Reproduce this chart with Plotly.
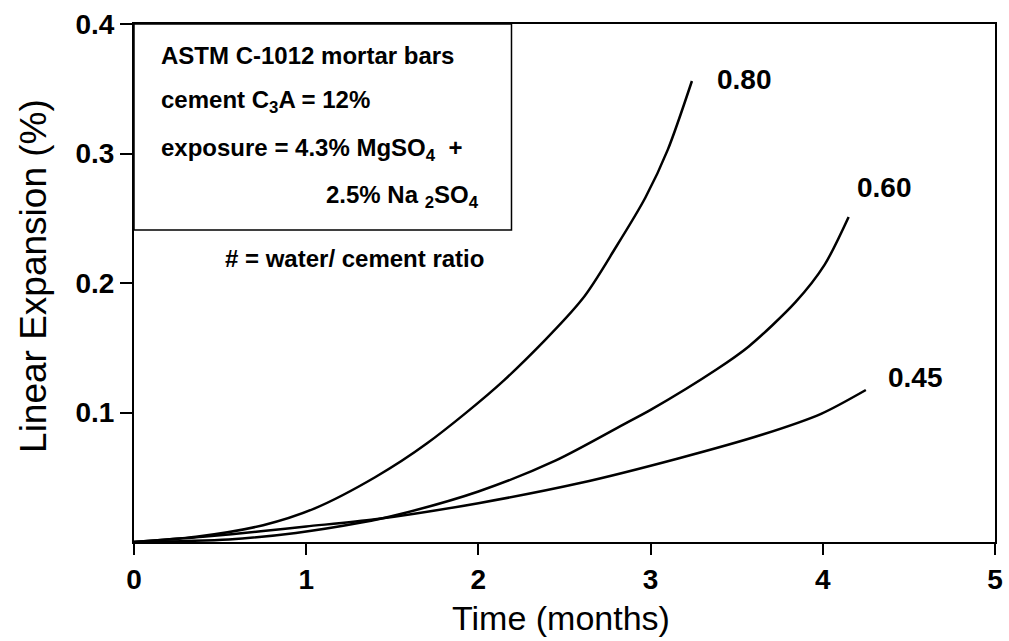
import plotly.graph_objects as go

# Data
t_080 = [0, 0.36, 0.75, 1.05, 1.40, 1.70, 2.15, 2.60, 2.80, 2.97, 3.10, 3.24]
e_080 = [0, 0.004, 0.013, 0.026, 0.050, 0.076, 0.125, 0.187, 0.228, 0.266, 0.303, 0.356]

t_060 = [0, 0.55, 0.94, 1.32, 1.53, 2.0, 2.45, 2.86, 3.0, 3.38, 3.57, 3.84, 4.01, 4.15]
e_060 = [0, 0.002, 0.007, 0.015, 0.021, 0.039, 0.063, 0.092, 0.102, 0.133, 0.151, 0.185, 0.214, 0.251]

t_045 = [0, 0.4, 0.75, 1.0, 1.4, 2.0, 2.59, 3.16, 3.65, 3.99, 4.25]
e_045 = [0, 0.004, 0.0085, 0.012, 0.0175, 0.030, 0.0455, 0.0645, 0.083, 0.099, 0.1174]

series = [("0.80", t_080, e_080, 3.548, 0.3568),
          ("0.60", t_060, e_060, 4.36, 0.274),
          ("0.45", t_045, e_045, 4.539, 0.1274)]

x_ticks = [0, 1, 2, 3, 4, 5]
y_ticks = [0.1, 0.2, 0.3, 0.4]
y_ticktext = ["0.1", "0.2", "0.3", "0.4"]

FONT = "Liberation Sans, Arial, sans-serif"

fig = go.Figure()
for name, t, e, lx, ly in series:
    fig.add_trace(go.Scatter(x=t, y=e, mode="lines", name=name,
                             line=dict(color="black", width=2.5, shape="spline", smoothing=0.8),
                             showlegend=False, hoverinfo="skip"))
    fig.add_annotation(x=lx, y=ly, xref="x", yref="y", text="<b>%s</b>" % name,
                       showarrow=False, font=dict(family=FONT, size=28, color="black"))

W, H = 1009, 641
L, R, T, B = 134, 6, 24, 99
pw, ph = W - L - R, H - T - B

def px(xp):
    return (xp - L) / pw

def py(yp):
    return (H - B - yp) / ph

# info box
fig.add_shape(type="rect", xref="paper", yref="paper",
              x0=0, x1=px(515), y0=py(230), y1=1,
              line=dict(color="black", width=1.5), fillcolor="rgba(0,0,0,0)")

box_lines = [
    ("<b>ASTM C-1012 mortar bars</b>", 159, 55, "left"),
    ("<b>cement C<sub>3</sub>A = 12%</b>", 159, 101, "left"),
    ("<b>exposure = 4.3% MgSO<sub>4</sub>  +</b>", 159, 150, "left"),
    ("<b>2.5% Na <sub>2</sub>SO<sub>4</sub></b>", 484, 196, "right"),
]
for text, xp, yp, anchor in box_lines:
    fig.add_annotation(x=px(xp), y=py(yp), xref="paper", yref="paper", text=text,
                       xanchor=anchor, yanchor="middle", showarrow=False,
                       font=dict(family=FONT, size=24, color="black"))

fig.add_annotation(x=px(357), y=py(258), xref="paper", yref="paper",
                   text="<b># = water/ cement ratio</b>", xanchor="center", yanchor="middle",
                   showarrow=False, font=dict(family=FONT, size=24, color="black"))

# axis titles
fig.add_annotation(x=px(565), y=py(618), xref="paper", yref="paper",
                   text="Time (months)", showarrow=False, xanchor="center", yanchor="middle",
                   font=dict(family=FONT, size=34, color="black"))
fig.add_annotation(x=px(32), y=py(276), xref="paper", yref="paper",
                   text="Linear Expansion (%)", showarrow=False, textangle=-90,
                   xanchor="center", yanchor="middle",
                   font=dict(family=FONT, size=37, color="black"))

fig.update_layout(
    width=W, height=H,
    margin=dict(l=L, r=R, t=T, b=B, pad=0),
    paper_bgcolor="white", plot_bgcolor="white",
    font=dict(family=FONT, color="black"),
)
fig.update_xaxes(range=[0, 5], tickvals=x_ticks, ticktext=["<b>%d</b>" % v for v in x_ticks],
                 showgrid=False, zeroline=False, showline=True, mirror=True,
                 linecolor="black", linewidth=2, ticks="outside", ticklen=11,
                 tickwidth=1.5, tickcolor="black",
                 tickfont=dict(family=FONT, size=28, color="black"))
fig.update_yaxes(range=[0, 0.4], tickvals=y_ticks, ticktext=["<b>%s</b>" % s for s in y_ticktext],
                 showgrid=False, zeroline=False, showline=True, mirror=True,
                 linecolor="black", linewidth=2, ticks="outside", ticklen=12,
                 tickwidth=1.5, tickcolor="black",
                 tickfont=dict(family=FONT, size=28, color="black"))

fig.write_html("out.html")
